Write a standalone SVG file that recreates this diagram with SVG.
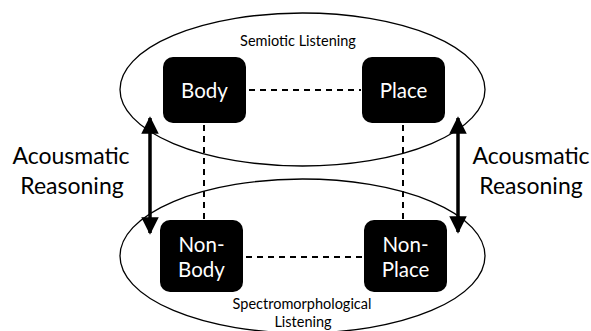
<svg xmlns="http://www.w3.org/2000/svg" width="591" height="331" viewBox="0 0 591 331">
<defs>
<style>
.ell{fill:none;stroke:#000;stroke-width:1.3}
.box{fill:#000;stroke:none}
.bl{fill:#fff;font-family:Lato,"Open Sans",sans-serif;font-size:20.5px;text-anchor:middle}
.lab{fill:#000;font-family:Lato,"Open Sans",sans-serif;text-anchor:middle}
.dash{stroke:#000;stroke-width:2;stroke-dasharray:6,5;fill:none}
.arr{stroke:#000;stroke-width:3.5;fill:none}
</style>
<marker id="ah" viewBox="0 0 10 10" refX="9" refY="5" markerWidth="5" markerHeight="5" orient="auto-start-reverse" markerUnits="strokeWidth">
<path d="M0,0 L10,5 L0,10 Z" fill="#000"/>
</marker>
</defs>
<rect width="591" height="331" fill="#fff"/>
<g id="semiotic">
<ellipse class="ell" cx="302.5" cy="89.5" rx="182.5" ry="76.5"/>
<text class="lab" x="298" y="46" font-size="14.5">Semiotic Listening</text>
</g>
<g id="spectro">
<ellipse class="ell" cx="302.5" cy="256" rx="182.5" ry="77"/>
<text class="lab" x="302" y="309" font-size="14.5">Spectromorphological</text>
<text class="lab" x="303" y="327" font-size="14.5">Listening</text>
</g>
<g id="connectors">
<line class="dash" x1="249" y1="90" x2="361" y2="90"/>
<line class="dash" x1="246" y1="257" x2="362" y2="257"/>
<line class="dash" x1="204" y1="125" x2="204" y2="219"/>
<line class="dash" x1="403" y1="125" x2="403" y2="219"/>
<line class="arr" x1="150" y1="118" x2="150" y2="233" marker-start="url(#ah)" marker-end="url(#ah)"/>
<line class="arr" x1="458" y1="118" x2="458" y2="232" marker-start="url(#ah)" marker-end="url(#ah)"/>
</g>
<g id="body">
<rect class="box" x="163" y="57" width="83" height="66" rx="10"/>
<text class="bl" x="204.5" y="98">Body</text>
</g>
<g id="place">
<rect class="box" x="362" y="57" width="83" height="66" rx="10"/>
<text class="bl" x="403.5" y="98">Place</text>
</g>
<g id="nonbody">
<rect class="box" x="160" y="220" width="83" height="72" rx="10"/>
<text class="bl" x="201.5" y="252">Non-</text>
<text class="bl" x="201.5" y="277">Body</text>
</g>
<g id="nonplace">
<rect class="box" x="364" y="220" width="83" height="72" rx="10"/>
<text class="bl" x="405.5" y="252">Non-</text>
<text class="bl" x="405.5" y="277">Place</text>
</g>
<g id="left-label">
<text class="lab" x="71" y="164" font-size="23">Acousmatic</text>
<text class="lab" x="72" y="194" font-size="23">Reasoning</text>
</g>
<g id="right-label">
<text class="lab" x="531" y="164" font-size="23">Acousmatic</text>
<text class="lab" x="531" y="194" font-size="23">Reasoning</text>
</g>
</svg>
